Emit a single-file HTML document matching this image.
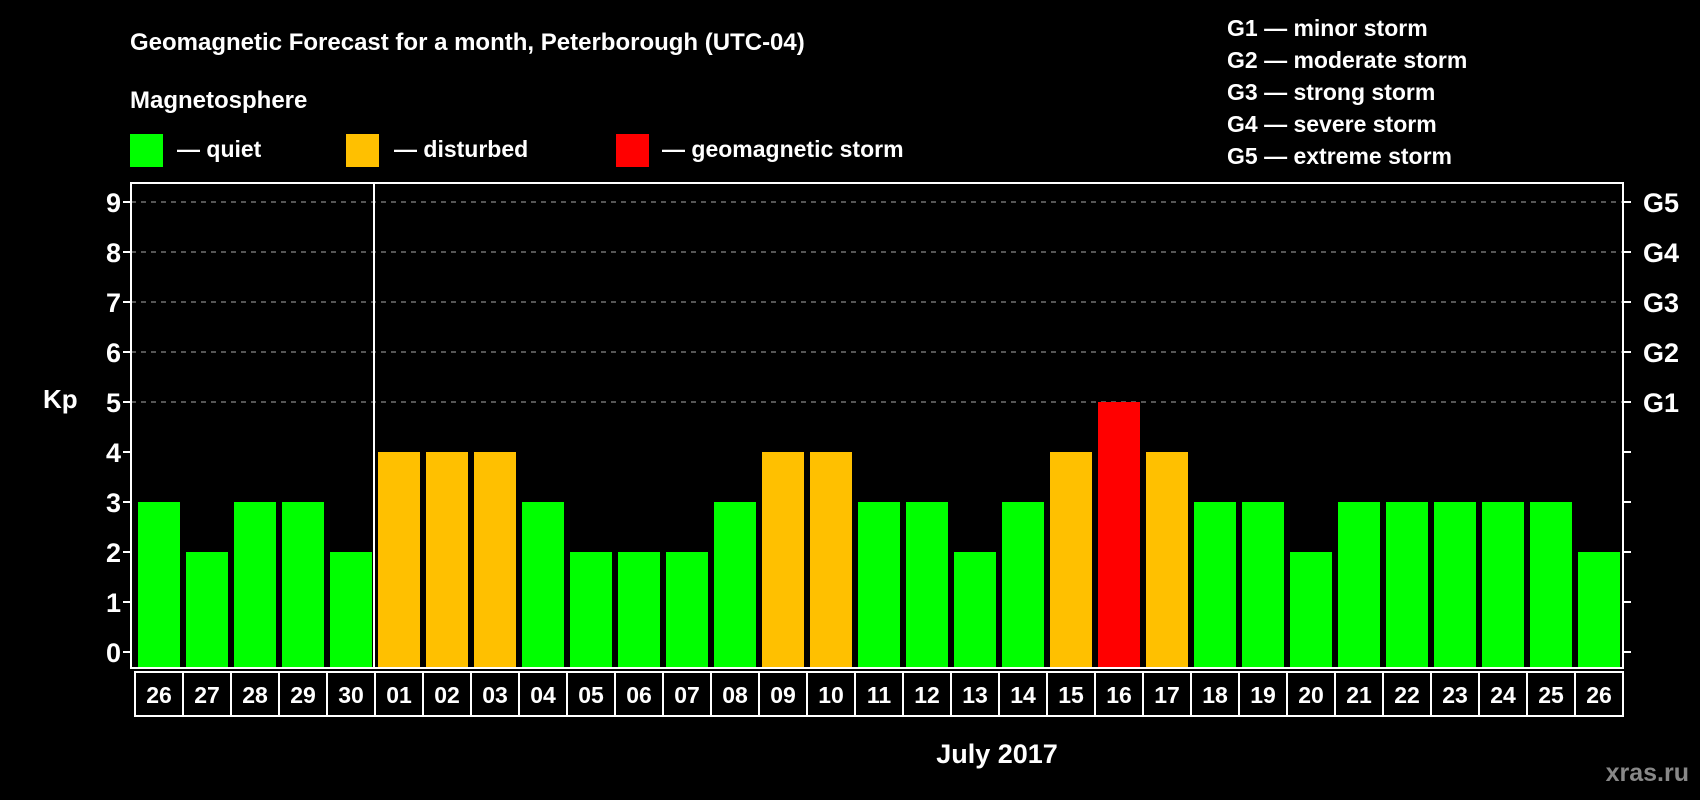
<!DOCTYPE html>
<html><head><meta charset="utf-8"><style>
html,body{margin:0;padding:0;background:#000;}
svg{display:block;font-family:"Liberation Sans",sans-serif;font-weight:bold;}
</style></head><body>
<svg id="chart" width="1700" height="800" viewBox="0 0 1700 800">
<rect x="0" y="0" width="1700" height="800" fill="#000"/>
<text x="130" y="50" fill="#fff" font-size="24">Geomagnetic Forecast for a month, Peterborough (UTC-04)</text>
<text x="130" y="108" fill="#fff" font-size="24">Magnetosphere</text>
<rect x="130" y="134" width="33" height="33" fill="#00ff00"/>
<text x="177" y="157" fill="#fff" font-size="23">— quiet</text>
<rect x="346" y="134" width="33" height="33" fill="#ffc000"/>
<text x="394" y="157" fill="#fff" font-size="23">— disturbed</text>
<rect x="616" y="134" width="33" height="33" fill="#ff0000"/>
<text x="662" y="157" fill="#fff" font-size="23">— geomagnetic storm</text>
<g font-size="23" fill="#fff">
<text x="1227" y="36">G1 — minor storm</text>
<text x="1227" y="68">G2 — moderate storm</text>
<text x="1227" y="100">G3 — strong storm</text>
<text x="1227" y="132">G4 — severe storm</text>
<text x="1227" y="164">G5 — extreme storm</text>
</g>
<text x="43" y="408" fill="#fff" font-size="26">Kp</text>
<text x="997" y="763" fill="#fff" font-size="27" text-anchor="middle">July 2017</text>
<text x="1689" y="781" fill="#888" font-size="25" text-anchor="end">xras.ru</text>
<g id="plot"></g>
</svg>
<script>
const days=["26","27","28","29","30","01","02","03","04","05","06","07","08","09","10","11","12","13","14","15","16","17","18","19","20","21","22","23","24","25","26"];
const kp=[3,2,3,3,2,4,4,4,3,2,2,2,3,4,4,3,3,2,3,4,5,4,3,3,2,3,3,3,3,3,2];
const yTicks=[0,1,2,3,4,5,6,7,8,9];
const gLabels=["G1","G2","G3","G4","G5"];
const gLevels=[5,6,7,8,9];
const NS="http://www.w3.org/2000/svg";
const L=131,R=1623,T=183,B=668,X0=135,STEP=48;
const y=v=>652-v*50;
const x=i=>X0+i*STEP;
const g=document.getElementById('plot');
function mk(tag,a){const e=document.createElementNS(NS,tag);for(const k in a)e.setAttribute(k,a[k]);g.appendChild(e);return e;}
yTicks.forEach(v=>{
 if(v>=5){const l=mk('line',{x1:L,x2:R,y1:y(v),y2:y(v),stroke:'#888','stroke-width':1.3,'stroke-dasharray':'5,5'});
 
 }
 const t1=mk('line',{x1:L-8,x2:L,y1:y(v),y2:y(v),stroke:'#fff','stroke-width':2});
 
 
 const t2=mk('line',{x1:R,x2:R+8,y1:y(v),y2:y(v),stroke:'#fff','stroke-width':2});
 
 
 const t=mk('text',{x:L-10,y:y(v)+10,fill:'#fff','font-size':27,'text-anchor':'end'});t.textContent=v;
 
 
});
gLevels.forEach((v,i)=>{const t=mk('text',{x:R+20,y:y(v)+10,fill:'#fff','font-size':27});t.textContent=gLabels[i];
 
 });
kp.forEach((v,i)=>{
 const c=v>=5?'#ff0000':(v>=4?'#ffc000':'#00ff00');
 const r=mk('rect',{x:x(i)+3,y:y(v),width:42,height:B-y(v),fill:c});
 
 
 const b=mk('rect',{x:x(i),y:672,width:STEP,height:44,fill:'none',stroke:'#fff','stroke-width':2});
 
 
 const t=mk('text',{x:x(i)+STEP/2,y:703,fill:'#fff','font-size':23,'text-anchor':'middle'});t.textContent=days[i];
 
 
});
const f=mk('rect',{x:L,y:T,width:R-L,height:B-T,fill:'none',stroke:'#fff','stroke-width':2});


const ml=mk('line',{x1:x(5)-1,x2:x(5)-1,y1:T,y2:B,stroke:'#fff','stroke-width':2});


</script>
</body></html>
